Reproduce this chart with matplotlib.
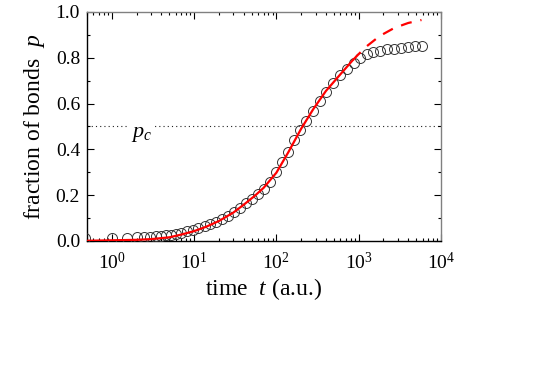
import matplotlib
matplotlib.use("Agg")
import matplotlib.pyplot as plt
from matplotlib.ticker import LogLocator, MultipleLocator, NullFormatter

plt.rcParams['font.family'] = ['Liberation Serif', 'DejaVu Serif']
plt.rcParams['mathtext.fontset'] = 'custom'
plt.rcParams['mathtext.rm'] = 'Liberation Serif'
plt.rcParams['mathtext.it'] = 'Liberation Serif:italic'

# measured data (open circles)
t_data = [0.471, 1.0, 1.52, 2.01, 2.44, 2.89, 3.41, 3.93, 4.51, 5.19, 5.97, 6.86,
          8.11, 9.59, 11.3, 13.4, 15.8, 18.7, 22.1, 26.2, 31.0, 36.6, 43.3, 51.2,
          60.5, 71.6, 84.6, 100, 118, 140, 165, 195, 231, 281, 341, 403, 491, 597,
          726, 882, 1042, 1268, 1500, 1823, 2215, 2692, 3275, 3981, 4840, 5885]
p_data = [0.012, 0.015, 0.015, 0.016, 0.017, 0.018, 0.020, 0.022, 0.024, 0.027, 0.031, 0.036,
          0.042, 0.049, 0.057, 0.066, 0.075, 0.085, 0.096, 0.110, 0.126, 0.145, 0.165, 0.185,
          0.205, 0.225, 0.258, 0.300, 0.343, 0.388, 0.440, 0.485, 0.525, 0.567, 0.612, 0.650,
          0.690, 0.725, 0.753, 0.778, 0.797, 0.815, 0.826, 0.831, 0.837, 0.840, 0.844, 0.847,
          0.850, 0.852]

# fit curve (solid within fitted range, dashed extrapolation)
t_fit = [0.5, 1, 2, 3, 5, 7, 10, 14, 20, 30, 40, 55, 70, 100, 140, 200, 280, 400, 600, 850]
p_fit = [0.001, 0.003, 0.005, 0.008, 0.016, 0.028, 0.043, 0.062, 0.087, 0.124, 0.158,
         0.198, 0.232, 0.298, 0.388, 0.490, 0.575, 0.655, 0.728, 0.790]
t_ext = [850, 1200, 1800, 2700, 4000, 5800]
p_ext = [0.790, 0.845, 0.895, 0.930, 0.952, 0.965]

pc_value = 0.5

fig = plt.figure(figsize=(5.45, 3.83), dpi=100)
ax = fig.add_axes([0.1596, 0.3708, 0.6495, 0.5979])

ax.axhline(pc_value, color='#222222', lw=0.8, linestyle=(0, (1, 2.8)), zorder=1)
ax.text(2.3, 0.465, '$p_c$', fontsize=16, ha='center', va='center',
        bbox=dict(facecolor='white', edgecolor='none', pad=2.0), zorder=2)

ax.plot(t_data, p_data, linestyle='none', marker='o', markersize=7.2,
        markerfacecolor='none', markeredgecolor='#333333', markeredgewidth=0.7, zorder=3)
ax.plot(t_fit, p_fit, color='#ff0000', lw=1.6, zorder=4)
ax.plot(t_ext, p_ext, color='#ff0000', lw=1.6, dashes=(5, 4), zorder=4)

ax.set_xscale('log')
ax.set_xlim(0.5, 1e4)
ax.set_ylim(0.0, 1.0)
ax.xaxis.set_major_locator(LogLocator(base=10, numticks=10))
ax.xaxis.set_minor_locator(LogLocator(base=10, subs=range(2, 10), numticks=20))
ax.xaxis.set_minor_formatter(NullFormatter())
ax.yaxis.set_major_locator(MultipleLocator(0.2))
ax.yaxis.set_minor_locator(MultipleLocator(0.1))
ax.yaxis.set_major_formatter(matplotlib.ticker.FormatStrFormatter('%.1f'))

ax.tick_params(which='both', direction='in', top=True, right=True, labelsize=14)
ax.tick_params(axis='x', which='major', pad=8)
ax.tick_params(axis='y', which='major', pad=5)
ax.tick_params(which='major', length=5, width=0.8)
ax.tick_params(which='minor', length=2.5, width=0.8)
for side in ['top', 'right']:
    ax.spines[side].set_color('#808080')
for side in ['left', 'bottom']:
    ax.spines[side].set_color('black')
ax.spines[:].set_linewidth(1.0)

ax.set_xlabel('time  $t$ (a.u.)', fontsize=17, labelpad=2)
ax.set_ylabel('fraction of bonds  $p$', fontsize=17, labelpad=6)

fig.savefig('out.png', dpi=100)
